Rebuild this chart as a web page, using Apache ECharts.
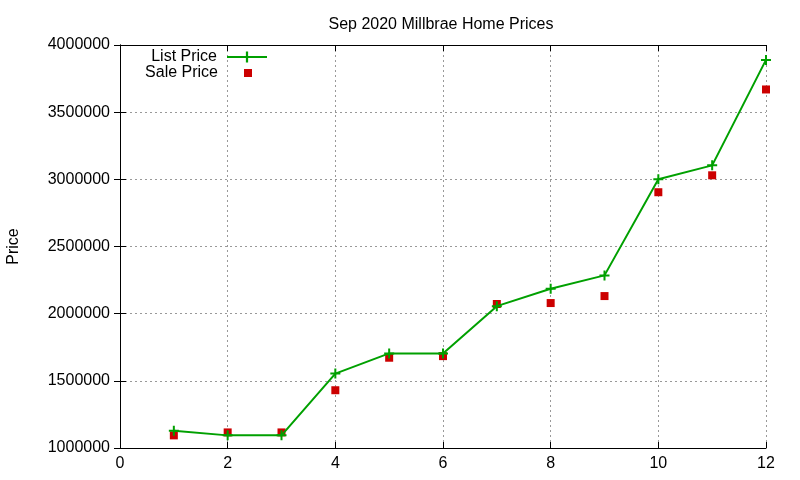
<!DOCTYPE html>
<html>
<head>
<meta charset="utf-8">
<script src="https://cdn.jsdelivr.net/npm/echarts@6/dist/echarts.min.js"></script>
<style>
  html, body { margin: 0; padding: 0; background: #fff; }
  #chart { width: 800px; height: 480px; }
</style>
</head>
<body>
<div id="chart"></div>
<script>
// values
var houses = [1, 2, 3, 4, 5, 6, 7, 8, 9, 10, 11, 12];
var listPrice = [1128000, 1094000, 1094000, 1554000, 1704000, 1704000, 2056000, 2186000, 2285000, 3000000, 3104000, 3889000];
var salePrice = [1094000, 1116000, 1116000, 1430000, 1672000, 1684000, 2072000, 2079000, 2131000, 2904000, 3030000, 3669000];

var font = 'Liberation Sans';
var plus = 'path://M4,0H6V4H10V6H6V10H4V6H0V4H4Z';
// square centred in a wide box so the legend icon stays small
var legendSquare = 'path://M0,0L0,0M40,14L40,14M16,3H24V11H16Z';

var chart = echarts.init(document.getElementById('chart'));

var option = {
  animation: false,
  backgroundColor: '#fff',
  textStyle: { fontFamily: font, color: '#000' },
  title: {
    text: 'Sep 2020 Millbrae Home Prices',
    left: 436,
    top: 12,
    textAlign: 'center',
    textStyle: { fontFamily: font, fontSize: 16, fontWeight: 'normal', color: '#000' }
  },
  legend: [{
    data: ['List Price'],
    right: 532,
    top: 49,
    padding: 0,
    align: 'right',
    itemWidth: 40,
    itemHeight: 14,
    textStyle: { fontFamily: font, fontSize: 16, color: '#000', padding: [0, 5, 0, 0] }
  }, {
    data: [{ name: 'Sale Price', icon: legendSquare }],
    right: 532,
    top: 65,
    padding: 0,
    align: 'right',
    itemWidth: 40,
    itemHeight: 14,
    textStyle: { fontFamily: font, fontSize: 16, color: '#000', padding: [0, 5, 0, 0] }
  }],
  grid: { left: 120, right: 34, top: 45, bottom: 32, outerBoundsMode: 'none' },
  xAxis: [{
    type: 'value',
    min: 0,
    max: 12,
    interval: 2,
    axisLine: { lineStyle: { color: '#000', width: 1 } },
    axisTick: { inside: true, length: 6, lineStyle: { color: '#000' } },
    axisLabel: { fontFamily: font, fontSize: 16, color: '#000', margin: 8 },
    splitLine: { show: true, lineStyle: { color: '#999', type: [2, 3], width: 1 } }
  }, {
    type: 'value',
    position: 'top',
    min: 0,
    max: 12,
    interval: 2,
    axisLine: { show: true, lineStyle: { color: '#000', width: 1 } },
    axisTick: { show: true, inside: true, length: 6, lineStyle: { color: '#000' } },
    axisLabel: { show: false },
    splitLine: { show: false }
  }],
  yAxis: [{
    type: 'value',
    min: 1000000,
    max: 4000000,
    interval: 500000,
    name: 'Price',
    nameLocation: 'middle',
    nameGap: 98,
    nameTextStyle: { fontFamily: font, fontSize: 16, color: '#000' },
    axisLine: { show: true, lineStyle: { color: '#000', width: 1 } },
    axisTick: { show: true, inside: true, length: 6, lineStyle: { color: '#000' } },
    axisLabel: {
      fontFamily: font, fontSize: 16, color: '#000', margin: 10,
      formatter: function (v) { return String(v); }
    },
    splitLine: { show: true, lineStyle: { color: '#999', type: [2, 3], width: 1 } }
  }, {
    type: 'value',
    position: 'right',
    min: 1000000,
    max: 4000000,
    interval: 500000,
    axisLine: { show: true, lineStyle: { color: '#000', width: 1 } },
    axisTick: { show: true, inside: true, length: 6, lineStyle: { color: '#000' } },
    axisLabel: { show: false },
    splitLine: { show: false }
  }],
  series: [{
    name: 'List Price',
    type: 'line',
    data: houses.map(function (h, i) { return [h, listPrice[i]]; }),
    symbol: plus,
    symbolSize: 10,
    showAllSymbol: true,
    lineStyle: { color: '#00a000', width: 2 },
    itemStyle: { color: '#00a000' },
    z: 3
  }, {
    name: 'Sale Price',
    type: 'scatter',
    data: houses.map(function (h, i) { return [h, salePrice[i]]; }),
    symbol: 'rect',
    symbolSize: 8,
    itemStyle: { color: '#cc0000', opacity: 1 },
    z: 2
  }]
};

chart.setOption(option);
</script>
</body>
</html>
